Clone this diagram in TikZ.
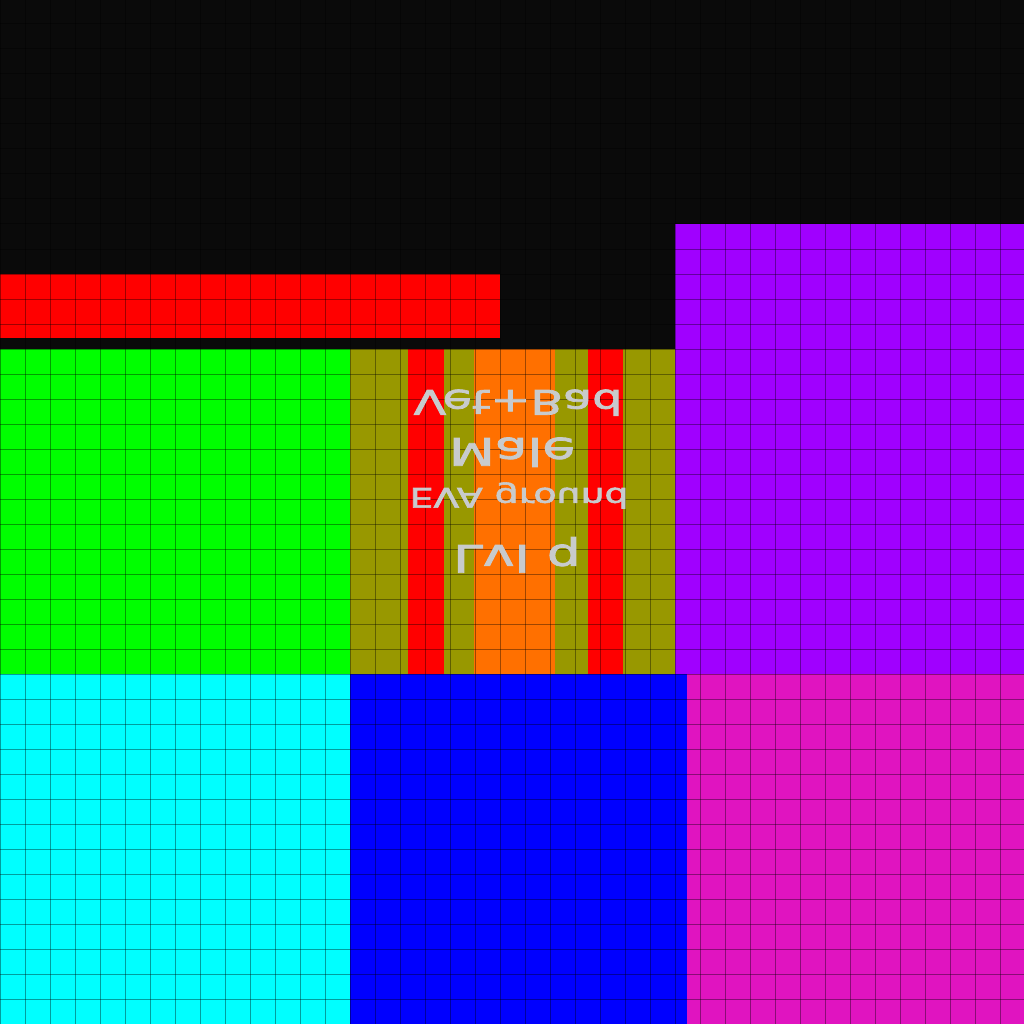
\documentclass[tikz,border=0pt]{standalone}
\usepackage{fontspec}
\newfontfamily\signfont{DejaVu Sans}[FakeBold=2]
\definecolor{bgBlack}{RGB}{10,10,10}
\definecolor{barRed}{RGB}{255,0,0}
\definecolor{padGreen}{RGB}{0,255,0}
\definecolor{padOlive}{RGB}{152,152,0}
\definecolor{padOrange}{RGB}{255,112,0}
\definecolor{padPurple}{RGB}{160,0,255}
\definecolor{padCyan}{RGB}{0,255,255}
\definecolor{padBlue}{RGB}{0,0,255}
\definecolor{padMagenta}{RGB}{224,20,192}
\definecolor{signGrey}{RGB}{200,203,205}

\begin{document}
\begin{tikzpicture}[x=1pt,y=-1pt,
  panel/.style={fill=#1},
  gridline/.style={black,opacity=0.38,line width=1pt},
  sign/.style={text=signGrey,font=\signfont\fontsize{#1}{#1}\selectfont,
               inner sep=0pt,anchor=base,yscale=-1,xscale=1.4,transform shape}]
\useasboundingbox (0,0) rectangle (1024,1024);
% blocks
\fill[panel=bgBlack] (0,0) rectangle (1024,1024);
\fill[panel=barRed] (0,274) rectangle (500,338);
\fill[panel=padPurple] (675,224) rectangle (1024,674);
\fill[panel=padGreen] (0,349) rectangle (350,674);
\fill[panel=padOlive] (350,349) rectangle (675,674);
\foreach \a/\b/\c in {408/444/barRed,474/555/padOrange,588/623/barRed}
  \fill[panel=\c] (\a,349) rectangle (\b,674);
\fill[panel=padCyan] (0,674) rectangle (350,1024);
\fill[panel=padBlue] (350,674) rectangle (687,1024);
\fill[panel=padMagenta] (687,674) rectangle (1024,1024);
% grid
\foreach \g in {0,25,...,1000}{
  \draw[gridline] (\g,0) -- (\g,1024);
  \draw[gridline] (0,\g-1) -- (1024,\g-1);
}
% flipped labels
\node[sign=34] (lineA) at (518,390) {Vet+Bad};
\node[sign=38] (lineB) at (512,438) {Male};
\node[sign=27] (lineC) at (519,488) {EVA ground};
\node[sign=38] (lineD) at (517,545) {LvI q};
\end{tikzpicture}
\end{document}
